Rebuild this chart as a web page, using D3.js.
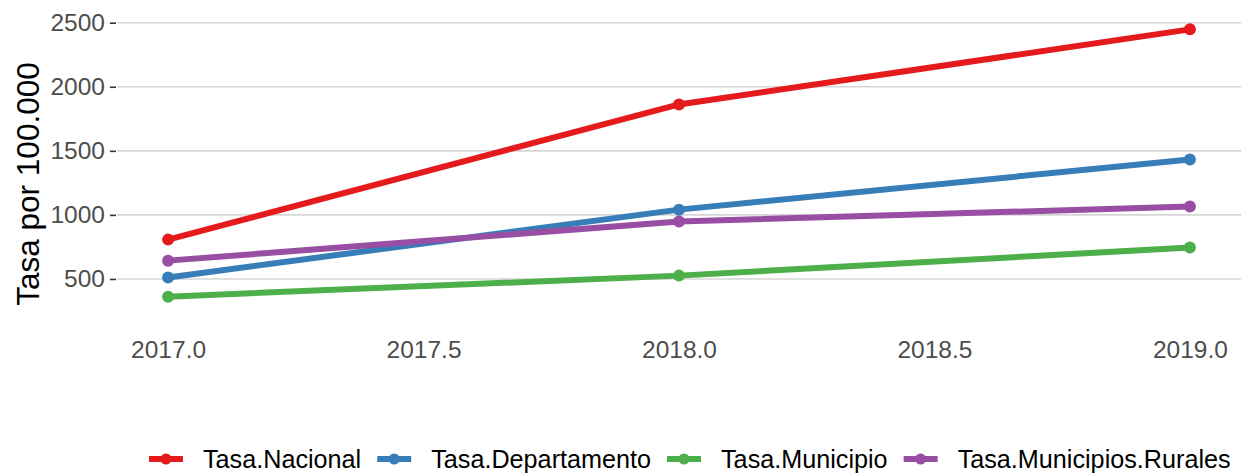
<!DOCTYPE html>
<html>
<head>
<meta charset="utf-8">
<script src="https://cdn.jsdelivr.net/npm/d3@7"></script>
<style>
  body { margin: 0; background: #fff; }
  text { font-family: "Liberation Sans", Arial, sans-serif; }
</style>
</head>
<body>
<div id="chart"></div>
<script>
// data
var years = [2017, 2018, 2019];
var seriesNames = ["Tasa.Nacional", "Tasa.Departamento", "Tasa.Municipio", "Tasa.Municipios.Rurales"];
var nacional = [807, 1862, 2448];
var departamento = [512, 1041, 1432];
var municipio = [362, 526, 745];
var rurales = [643, 948, 1065];
var yTicks = [500, 1000, 1500, 2000, 2500];
var xTicks = [2017.0, 2017.5, 2018.0, 2018.5, 2019.0];
var colors = ["#E41A1C", "#377EB8", "#4DAF4A", "#984EA3"];

var allValues = [nacional, departamento, municipio, rurales];
var series = seriesNames.map(function(n, i) {
  return {name: n, color: colors[i], values: years.map(function(y, j) { return {year: y, v: allValues[i][j]}; })};
});

var W = 1241, H = 473;
var margin = {top: 16, right: 0, bottom: 163, left: 117};
var width = W - margin.left - margin.right,
    height = H - margin.top - margin.bottom;

var svg = d3.select("#chart").append("svg")
    .attr("width", W).attr("height", H);
var g = svg.append("g")
    .attr("transform", "translate(" + margin.left + "," + margin.top + ")");

// ggplot-like 5% expansion
var xMin = d3.min(years), xMax = d3.max(years);
var xPad = (xMax - xMin) * 0.05;
var x = d3.scaleLinear().domain([xMin - xPad, xMax + xPad]).range([0, width]);

var vMin = d3.min(allValues, function(a) { return d3.min(a); }),
    vMax = d3.max(allValues, function(a) { return d3.max(a); });
var yPad = (vMax - vMin) * 0.05;
var y = d3.scaleLinear().domain([vMin - yPad, vMax + yPad]).range([height, 0]);

// gridlines
g.selectAll(".grid").data(yTicks).enter().append("line")
  .attr("x1", 0).attr("x2", width)
  .attr("y1", function(d) { return y(d); }).attr("y2", function(d) { return y(d); })
  .attr("stroke", "#d6d6d6").attr("stroke-width", 1.6);

// y axis
var yAxis = g.append("g").call(d3.axisLeft(y).tickValues(yTicks).tickFormat(d3.format("d")).tickSize(6).tickPadding(6));
yAxis.select(".domain").remove();
yAxis.selectAll(".tick line").attr("stroke", "#333").attr("stroke-width", 1.6).attr("x1", -7).attr("x2", -1);
yAxis.selectAll(".tick text").attr("fill", "#4d4d4d").style("font-size", "24.5px").attr("x", -12);

// x axis
var xAxis = g.append("g").attr("transform", "translate(0," + height + ")")
  .call(d3.axisBottom(x).tickValues(xTicks).tickFormat(d3.format(".1f")).tickSize(0).tickPadding(10));
xAxis.select(".domain").remove();
xAxis.selectAll(".tick text").attr("fill", "#4d4d4d").style("font-size", "24.5px").attr("dy", "0.71em")
  .attr("y", 31);

// y axis title
svg.append("text")
  .attr("transform", "translate(39,184) rotate(-90)")
  .attr("text-anchor", "middle")
  .style("font-size", "31.5px")
  .attr("fill", "#000")
  .text("Tasa por 100.000");

// lines
var line = d3.line().x(function(d) { return x(d.year); }).y(function(d) { return y(d.v); });

var sg = g.selectAll(".series").data(series).enter().append("g");
sg.append("path")
  .attr("d", function(d) { return line(d.values); })
  .attr("fill", "none")
  .attr("stroke", function(d) { return d.color; })
  .attr("stroke-width", 6);
sg.selectAll("circle").data(function(d) { return d.values.map(function(p) { return {p: p, c: d.color}; }); })
  .enter().append("circle")
  .attr("cx", function(d) { return x(d.p.year); })
  .attr("cy", function(d) { return y(d.p.v); })
  .attr("r", 6)
  .attr("fill", function(d) { return d.c; });

// legend
var legend = svg.append("g").attr("transform", "translate(0,459)");
var lx = 149;
series.forEach(function(s) {
  var item = legend.append("g").attr("transform", "translate(" + lx + ",0)");
  item.append("line").attr("x1", 0).attr("x2", 34).attr("y1", 0).attr("y2", 0)
    .attr("stroke", s.color).attr("stroke-width", 6);
  item.append("circle").attr("cx", 17).attr("cy", 0).attr("r", 5.5).attr("fill", s.color);
  var t = item.append("text").attr("x", 54).attr("dy", "0.36em")
    .style("font-size", "25.2px").attr("fill", "#000").text(s.name);
  lx += 54 + t.node().getComputedTextLength() + 16;
});
</script>
</body>
</html>
